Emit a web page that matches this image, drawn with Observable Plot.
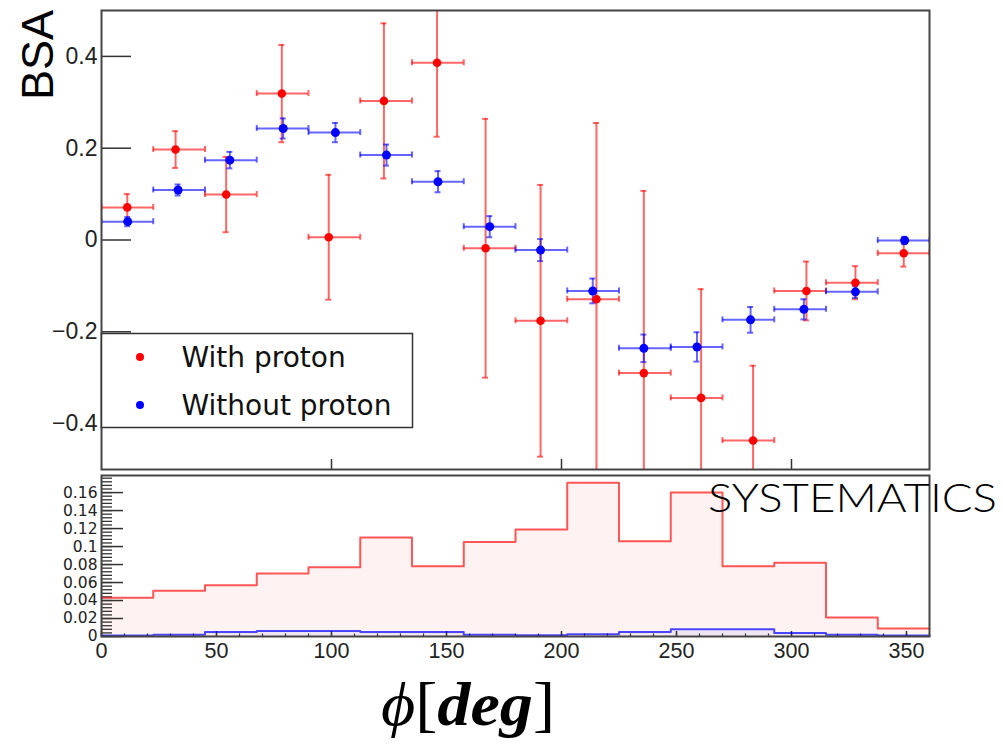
<!DOCTYPE html>
<html>
<head>
<meta charset="utf-8">
<script src="https://cdn.jsdelivr.net/npm/d3@7"></script>
<script src="https://cdn.jsdelivr.net/npm/@observablehq/plot@0.6"></script>
<style>
  body { margin: 0; background: #fff; }
  #wrap { position: relative; width: 1003px; height: 746px; overflow: hidden; background: #fff; }
  #wrap > svg { display: block; }
  #overlay { position: absolute; left: 0; top: 0; pointer-events: none; }
</style>
</head>
<body>
<div id="wrap">
  <div id="topPanel"></div>
  <div id="bottomPanel"></div>
</div>
<script>
// ---------- data ----------
const binLo = [0, 22.5, 45, 67.5, 90, 112.5, 135, 157.5, 180, 202.5, 225, 247.5, 270, 292.5, 315, 337.5];
const binHi = [22.5, 45, 67.5, 90, 112.5, 135, 157.5, 180, 202.5, 225, 247.5, 270, 292.5, 315, 337.5, 360];

// BSA "With proton"
const withX   = [11.2, 32.2, 54.2, 78.4, 98.8, 122.8, 145.9, 167.0, 190.9, 215.2, 235.8, 260.7, 283.3, 306.5, 327.8, 348.8];
const withY   = [0.071, 0.197, 0.099, 0.319, 0.006, 0.303, 0.386, -0.018, -0.176, -0.129, -0.290, -0.344, -0.437, -0.111, -0.093, -0.029];
const withErr = [0.029, 0.040, 0.082, 0.106, 0.136, 0.169, 0.161, 0.282, 0.296, 0.384, 0.397, 0.237, 0.163, 0.064, 0.036, 0.029];

// BSA "Without proton"
const withoutX   = [11.4, 33.3, 55.8, 79.0, 101.7, 123.9, 146.3, 168.8, 190.9, 213.6, 235.8, 258.9, 282.2, 305.4, 327.8, 349.2];
const withoutY   = [0.040, 0.109, 0.174, 0.243, 0.234, 0.185, 0.127, 0.029, -0.022, -0.111, -0.236, -0.233, -0.174, -0.151, -0.113, -0.001];
const withoutErr = [0.010, 0.012, 0.018, 0.022, 0.021, 0.023, 0.023, 0.023, 0.024, 0.027, 0.030, 0.032, 0.028, 0.022, 0.013, 0.008];

// Systematics histograms
const sysWith    = [0.043, 0.051, 0.057, 0.070, 0.077, 0.110, 0.078, 0.105, 0.119, 0.171, 0.106, 0.160, 0.078, 0.082, 0.021, 0.009];
const sysWithout = [0.001, 0.002, 0.005, 0.006, 0.006, 0.005, 0.005, 0.002, 0.0015, 0.0026, 0.005, 0.008, 0.008, 0.004, 0.002, 0.001];

// axes / ticks
const phiDomain = [0, 360];
const bsaDomain = [-0.5, 0.5];
const sysDomain = [0, 0.179];
const bsaTicks = [-0.4, -0.2, 0, 0.2, 0.4];
const bsaTickLabels = ["\u22120.4", "\u22120.2", "0", "0.2", "0.4"];
const phiTopTicks = [100, 200, 300];
const phiTicks = [0, 50, 100, 150, 200, 250, 300, 350];
const phiMinorTicks = d3.range(0, 361, 10);
const sysTicks = [0, 0.02, 0.04, 0.06, 0.08, 0.1, 0.12, 0.14, 0.16];
const sysTickLabels = ["0", "0.02", "0.04", "0.06", "0.08", "0.1", "0.12", "0.14", "0.16"];
const sysMinorTicks = d3.range(0, 45).map(i => i * 0.004);

const seriesNames = ["With proton", "Without proton"];
const seriesColors = ["#ff0000", "#0000ff"];

// ---------- tables ----------
const withData = withX.map((x, i) => ({x, y: withY[i], e: withErr[i], lo: binLo[i], hi: binHi[i]}));
const withoutData = withoutX.map((x, i) => ({x, y: withoutY[i], e: withoutErr[i], lo: binLo[i], hi: binHi[i]}));
const stepPts = (vals) => binLo.map((lo, i) => ({x: lo, y: vals[i]})).concat([{x: binHi[binHi.length - 1], y: vals[vals.length - 1]}]);

const tickStroke = {stroke: "#333", strokeWidth: 1.5};

function errMarks(data, color) {
  const c = {stroke: color, strokeOpacity: 0.6, strokeWidth: 2, clip: true};
  return [
    Plot.ruleY(data, {y: "y", x1: "lo", x2: "hi", ...c}),
    Plot.ruleX(data, {x: "lo", y1: "y", y2: "y", insetTop: -3, insetBottom: -3, ...c}),
    Plot.ruleX(data, {x: "hi", y1: "y", y2: "y", insetTop: -3, insetBottom: -3, ...c}),
    Plot.ruleX(data, {x: "x", y1: d => d.y - d.e, y2: d => d.y + d.e, ...c}),
    Plot.ruleY(data, {y: d => d.y + d.e, x1: "x", x2: "x", insetLeft: -3, insetRight: -3, ...c}),
    Plot.ruleY(data, {y: d => d.y - d.e, x1: "x", x2: "x", insetLeft: -3, insetRight: -3, ...c})
  ];
}

// ---------- top panel ----------
const topPlot = Plot.plot({
  width: 1003,
  height: 472,
  marginLeft: 101,
  marginRight: 74,
  marginTop: 10,
  marginBottom: 3,
  style: {fontFamily: "'Liberation Sans', Arial, sans-serif", background: "transparent", overflow: "visible"},
  x: {domain: phiDomain, axis: null},
  y: {domain: bsaDomain, axis: null},
  marks: [
    Plot.axisY(bsaTicks, {anchor: "left", tickSize: 0, tickPadding: 4, fontSize: 23, fill: "#222",
      tickFormat: (d) => bsaTickLabels[bsaTicks.indexOf(d)], label: null}),
    Plot.ruleY(bsaTicks, {y: d => d, x1: phiDomain[0], x2: phiDomain[0], insetRight: -30, ...tickStroke}),
    Plot.ruleX(phiTopTicks, {x: d => d, y1: bsaDomain[0], y2: bsaDomain[0], insetTop: -10, ...tickStroke}),
    ...errMarks(withData, seriesColors[0]),
    ...errMarks(withoutData, seriesColors[1]),
    Plot.dot(withData, {x: "x", y: "y", r: 4.3, fill: seriesColors[0], stroke: "none", clip: true}),
    Plot.dot(withoutData, {x: "x", y: "y", r: 4.5, fill: seriesColors[1], stroke: "none", clip: true}),
    Plot.frame({stroke: "#444", strokeWidth: 2})
  ]
});
document.getElementById("topPanel").replaceWith(topPlot);

// ---------- bottom panel ----------
const bottomPlot = Plot.plot({
  width: 1003,
  height: 274,
  marginLeft: 101,
  marginRight: 74,
  marginTop: 3,
  marginBottom: 110,
  style: {fontFamily: "'Liberation Sans', Arial, sans-serif", background: "transparent", overflow: "visible"},
  x: {domain: phiDomain, axis: null},
  y: {domain: sysDomain, axis: null},
  marks: [
    Plot.areaY(stepPts(sysWith), {x: "x", y: "y", curve: "step-after", fill: "#ff0000", fillOpacity: 0.05}),
    Plot.areaY(stepPts(sysWithout), {x: "x", y: "y", curve: "step-after", fill: "#0000ff", fillOpacity: 0.05}),
    Plot.ruleY(sysMinorTicks, {y: d => d, x1: phiDomain[0], x2: phiDomain[0], insetRight: -11, ...tickStroke, strokeWidth: 1.3, clip: true}),
    Plot.ruleY(sysTicks, {y: d => d, x1: phiDomain[0], x2: phiDomain[0], insetRight: -22, ...tickStroke}),
    Plot.ruleX(phiMinorTicks, {x: d => d, y1: sysDomain[0], y2: sysDomain[0], insetTop: -2.5, ...tickStroke, strokeWidth: 1.2}),
    Plot.ruleX(phiTicks, {x: d => d, y1: sysDomain[0], y2: sysDomain[0], insetTop: -5, ...tickStroke}),
    Plot.lineY(stepPts(sysWith), {x: "x", y: "y", curve: "step-after", stroke: seriesColors[0], strokeOpacity: 0.65, strokeWidth: 2}),
    Plot.lineY(stepPts(sysWithout), {x: "x", y: "y", curve: "step-after", stroke: seriesColors[1], strokeOpacity: 0.7, strokeWidth: 2}),
    Plot.axisY(sysTicks, {anchor: "left", tickSize: 0, tickPadding: 4, fontSize: 15.5, fill: "#222",
      fontFamily: "'DejaVu Sans', sans-serif",
      tickFormat: (d) => sysTickLabels[sysTicks.indexOf(d)], label: null}),
    Plot.axisX(phiTicks, {anchor: "bottom", tickSize: 0, tickPadding: 6, fontSize: 21.5, fill: "#222",
      tickFormat: d => String(d), label: null}),
    Plot.frame({stroke: "#444", strokeWidth: 2})
  ]
});
document.getElementById("bottomPanel").replaceWith(bottomPlot);

// ---------- overlay: axis titles, legend, annotation ----------
const ov = d3.select("#wrap").append("svg")
  .attr("id", "overlay").attr("width", 1003).attr("height", 746);

// y title
ov.append("text").text("BSA")
  .attr("transform", "translate(53,10) rotate(-90)")
  .attr("text-anchor", "end")
  .attr("font-family", "'Liberation Sans', Arial, sans-serif")
  .attr("font-size", 45)
  .attr("fill", "#000");

// legend
const lg = ov.append("g");
lg.append("rect").attr("x", 101.5).attr("y", 333.5).attr("width", 311).attr("height", 94)
  .attr("fill", "#fff").attr("stroke", "#333").attr("stroke-width", 1.5);
seriesNames.forEach((name, i) => {
  const cy = [357, 405][i];
  lg.append("circle").attr("cx", 140).attr("cy", cy).attr("r", 4).attr("fill", seriesColors[i]);
  lg.append("text").text(name).attr("x", 181.5).attr("y", cy + 10)
    .attr("font-family", "'DejaVu Sans', sans-serif").attr("font-size", 28).attr("fill", "#111");
});

// SYSTEMATICS annotation
ov.append("text").text("SYSTEMATICS")
  .attr("x", 708).attr("y", 512)
  .attr("font-family", "Lato, 'Open Sans', sans-serif")
  .attr("font-weight", 300)
  .attr("font-size", 40)
  .attr("textLength", 289).attr("lengthAdjust", "spacingAndGlyphs")
  .attr("fill", "#000");

// x title  ϕ[deg]
const xt = ov.append("text")
  .attr("x", 381).attr("y", 725)
  .attr("font-family", "'Liberation Serif', 'DejaVu Serif', serif")
  .attr("font-size", 62)
  .attr("fill", "#000")
  .attr("textLength", 174).attr("lengthAdjust", "spacingAndGlyphs");
xt.append("tspan").attr("font-style", "italic").text("\u03D5");
xt.append("tspan").text("[");
xt.append("tspan").attr("font-style", "italic").attr("font-weight", 600).text("deg");
xt.append("tspan").text("]");
</script>
</body>
</html>
